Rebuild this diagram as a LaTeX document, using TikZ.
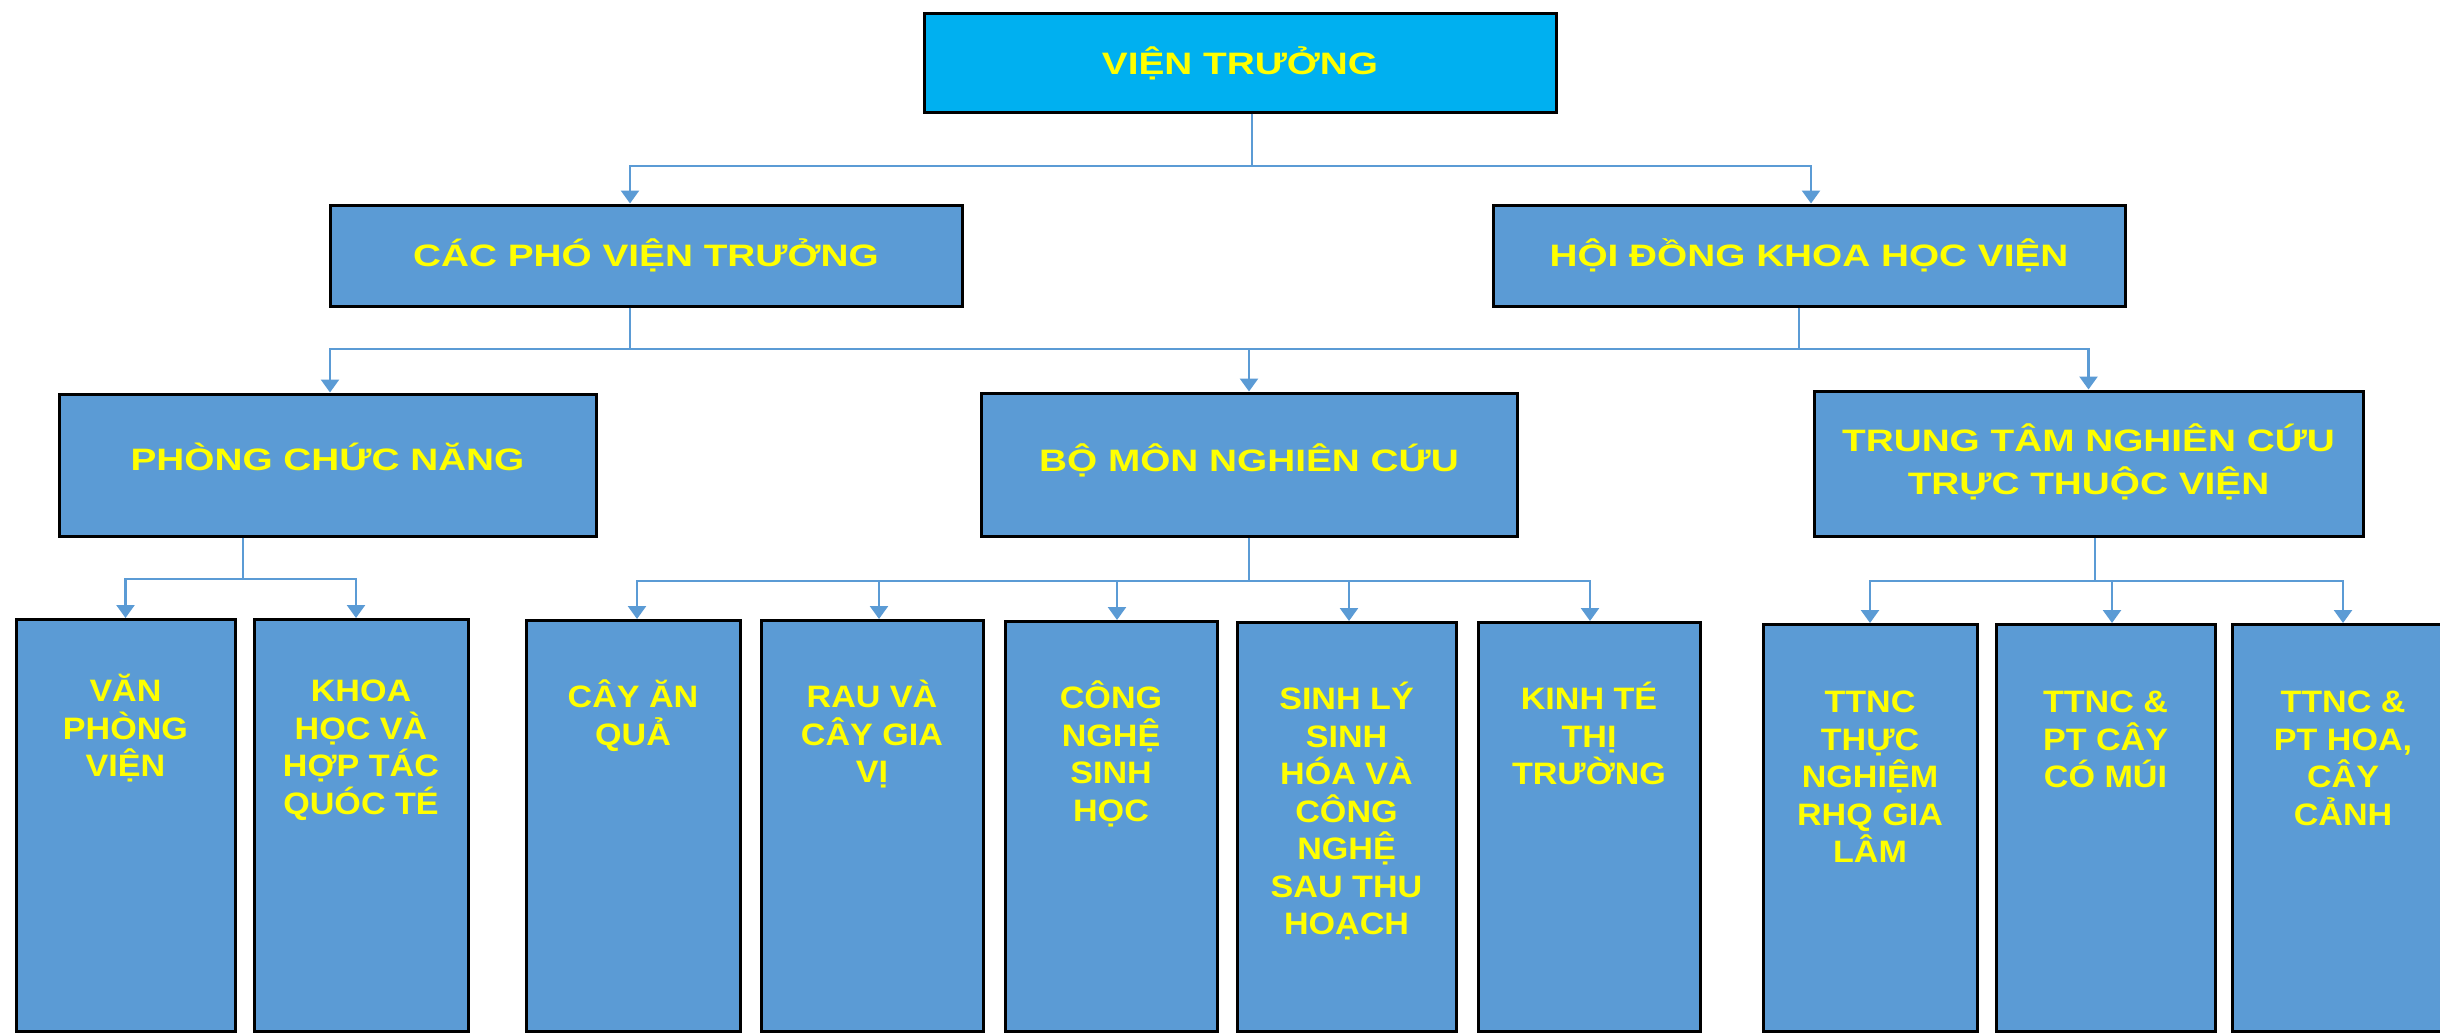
\documentclass[tikz,border=0pt]{standalone}
\usepackage{fontspec}
\setmainfont{Liberation Sans}
\newfontfamily\topfont{Liberation Sans}[FakeStretch=1.25]
\newfontfamily\leaffamily{Liberation Sans}[FakeStretch=1.1]
\usetikzlibrary{arrows.meta}
\definecolor{boxblue}{RGB}{91,155,213}
\definecolor{topcyan}{RGB}{0,176,240}
\definecolor{lineblue}{RGB}{91,155,213}
\definecolor{txtyellow}{RGB}{255,255,0}
\newcommand\leaffont{\leaffamily\bfseries\fontsize{31pt}{37.5pt}\selectfont}
\newcommand\lift[1]{\rule[-#1]{0pt}{#1}}
\tikzset{
  boxbase/.style={draw=black, line width=3pt, inner sep=0pt, text=txtyellow},
  midbox/.style={boxbase, fill=boxblue, align=center,
    font=\topfont\bfseries\fontsize{31pt}{43pt}\selectfont},
  chief/.style={midbox, fill=topcyan},
  leaf/.style={boxbase, fill=boxblue, anchor=north},
  conn/.style={draw=lineblue, line width=2.5pt},
  arr/.style={conn, -{Triangle[width=18pt,length=13pt]}},
}
\newcommand\leafnode[7]{\node[leaf] (#1) at (#2,#3)
  {\parbox[t][#5pt][t]{#4pt}{\centering\leaffont\rule{0pt}{#7pt}#6\par}};}
\begin{document}
\begin{tikzpicture}[x=1pt,y=-1pt]
\useasboundingbox (0,0) rectangle (2440,1033);
\fill[white] (0,0) rectangle (2440,1033);

% top levels
\node[chief, minimum width=632pt, minimum height=98pt] (vt) at (1240,63) {VIỆN TRƯỞNG};
\node[midbox, minimum width=632pt, minimum height=101pt] (cp) at (646,255.5) {CÁC PHÓ VIỆN TRƯỞNG\lift{5pt}};
\node[midbox, minimum width=632pt, minimum height=101pt] (hd) at (1809,255.5) {HỘI ĐỒNG KHOA HỌC VIỆN\lift{5pt}};
\node[midbox, minimum width=537pt, minimum height=142pt] (ph) at (327.5,465) {PHÒNG CHỨC NĂNG\lift{16pt}};
\node[midbox, minimum width=536pt, minimum height=143pt] (bm) at (1249,464.5) {BỘ MÔN NGHIÊN CỨU\lift{14pt}};
\node[midbox, minimum width=549pt, minimum height=145pt] (tt) at (2088.5,463.5) {TRUNG TÂM NGHIÊN CỨU\\TRỰC THUỘC VIỆN\lift{8pt}};

% leaves
\leafnode{vp}{125.5}{618}{219}{412}{VĂN\\PHÒNG\\VIỆN}{82}
\leafnode{kh}{361}{618}{214}{412}{KHOA\\HỌC VÀ\\HỢP TÁC\\QUÓC TÉ}{82}
\leafnode{caq}{633}{619}{214}{411}{CÂY ĂN\\QUẢ}{87}
\leafnode{rau}{872}{619}{222}{411}{RAU VÀ\\CÂY GIA\\VỊ}{87}
\leafnode{cn}{1111}{620}{212}{410}{CÔNG\\NGHỆ\\SINH\\HỌC}{87}
\leafnode{sl}{1346.5}{621}{219}{409}{SINH LÝ\\SINH\\HÓA VÀ\\CÔNG\\NGHỆ\\SAU THU\\HOẠCH}{87}
\leafnode{kt}{1589}{621}{222}{409}{KINH TÉ\\THỊ\\TRƯỜNG}{87}
\leafnode{t1}{1870}{623}{214}{407}{TTNC\\THỰC\\NGHIỆM\\RHQ GIA\\LÂM}{88}
\leafnode{t2}{2105.5}{623}{219}{407}{TTNC \&\\PT CÂY\\CÓ MÚI}{88}
\leafnode{t3}{2343}{623}{222}{407}{TTNC \&\\PT HOA,\\CÂY\\CẢNH}{88}

% connectors level 0 -> 1
\coordinate (b0) at (1252,166);
\draw[conn] ([xshift=12pt]vt.south) -- (b0);
\draw[arr] (b0) -| ([xshift=-16pt]cp.north);
\draw[arr] (b0) -| ([xshift=2pt]hd.north);

% level 1 -> 2
\coordinate (b1) at (630,349);
\coordinate (b2) at (1799,349);
\draw[conn] ([xshift=-16pt]cp.south) -- (b1);
\draw[conn] ([xshift=-10pt]hd.south) -- (b2);
\draw[conn] (b1) -- (b2);
\draw[arr] (b1) -| ([xshift=2.5pt]ph.north);
\draw[arr] (b1) -| (bm.north);
\draw[arr] (b2) -| (tt.north);

% level 2 -> 3
\coordinate (b3) at (243,579);
\draw[conn] ([xshift=-84.5pt]ph.south) -- (b3);
\draw[arr] (b3) -| (vp.north);
\draw[arr] (b3) -| ([xshift=-5pt]kh.north);

\coordinate (b4) at (1249,581);
\draw[conn] (bm.south) -- (b4);
\draw[arr] (b4) -| ([xshift=4pt]caq.north);
\draw[arr] (b4) -| ([xshift=7pt]rau.north);
\draw[arr] (b4) -| ([xshift=6pt]cn.north);
\draw[arr] (b4) -| ([xshift=2.5pt]sl.north);
\draw[arr] (b4) -| ([xshift=1pt]kt.north);

\coordinate (b5) at (2095,581);
\draw[conn] ([xshift=6.5pt]tt.south) -- (b5);
\draw[arr] (b5) -| (t1.north);
\draw[arr] (b5) -| ([xshift=6.5pt]t2.north);
\draw[arr] (b5) -| (t3.north);
\end{tikzpicture}
\end{document}
